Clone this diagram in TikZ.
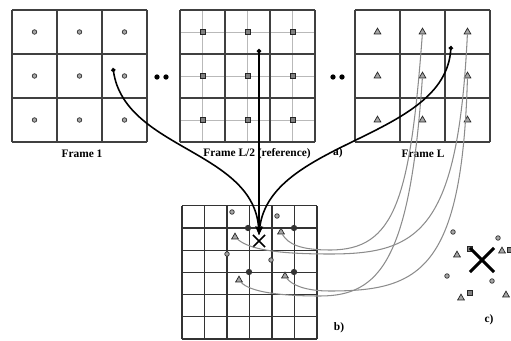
\documentclass[tikz,border=0pt]{standalone}
\usepackage{fontspec}
\setmainfont{Liberation Serif}
\usetikzlibrary{arrows.meta,shapes.geometric,shapes.misc}

\begin{document}
\begin{tikzpicture}[x=0.02cm, y=0.02cm, >=Stealth,
  every node/.style={font=\fontsize{6.5}{8}\selectfont\bfseries},
  pcirc/.style={circle, draw=black!80, fill=black!35, inner sep=0pt, minimum size=2.6pt},
  psq/.style={rectangle, draw=black!85, fill=black!50, inner sep=0pt, minimum size=2.8pt},
  ptri/.style={regular polygon, regular polygon sides=3, draw=black!85, fill=black!35, inner sep=0pt, minimum size=4.4pt},
  pblk/.style={circle, fill=black!80, inner sep=0pt, minimum size=3.6pt},
  gapdot/.style={circle, fill=black, inner sep=0pt, minimum size=3pt},
  framegrid/.style={black!75, line width=0.9pt},
  trail/.style={black!45, line width=0.6pt},
  mv/.style={{Circle[length=2.4pt]}-{Stealth[length=5pt]}, line width=0.9pt}]
\useasboundingbox (0,-341) rectangle (511,0);
% frames a)
\draw[gray!55, line width=0.5pt, shift={(202.5,-120)}, xstep=45, ystep=44] (-22.5,-22) grid (112.5,110);
\draw[framegrid, shift={(12,-142)}, xstep=45, ystep=44] (0,0) grid (135.1,132.1);
\draw[framegrid, shift={(180,-142)}, xstep=45, ystep=44] (0,0) grid (135.1,132.1);
\draw[framegrid, shift={(355,-142)}, xstep=45, ystep=44] (0,0) grid (135.1,132.1);
\node[pcirc] (f11) at (34.5,-32) {};\node[pcirc] (f12) at (79.5,-32) {};\node[pcirc] (f13) at (124.5,-32) {};
\node[pcirc] (f21) at (34.5,-76) {};\node[pcirc] (f22) at (79.5,-76) {};\node[pcirc] (f23) at (124.5,-76) {};
\node[pcirc] (f31) at (34.5,-120) {};\node[pcirc] (f32) at (79.5,-120) {};\node[pcirc] (f33) at (124.5,-120) {};
\node[psq] (m11) at (202.5,-32) {};\node[psq] (m12) at (247.5,-32) {};\node[psq] (m13) at (292.5,-32) {};
\node[psq] (m21) at (202.5,-76) {};\node[psq] (m22) at (247.5,-76) {};\node[psq] (m23) at (292.5,-76) {};
\node[psq] (m31) at (202.5,-120) {};\node[psq] (m32) at (247.5,-120) {};\node[psq] (m33) at (292.5,-120) {};
\node[ptri] (tl11) at (377.5,-32) {};\node[ptri] (tl12) at (422.5,-32) {};\node[ptri] (tl13) at (467.5,-32) {};
\node[ptri] (tl21) at (377.5,-76) {};\node[ptri] (tl22) at (422.5,-76) {};\node[ptri] (tl23) at (467.5,-76) {};
\node[ptri] (tl31) at (377.5,-120) {};\node[ptri] (tl32) at (422.5,-120) {};\node[ptri] (tl33) at (467.5,-120) {};
\node[gapdot] (g1) at (157,-77) {};\node[gapdot] (g2) at (166,-77) {};
\node[gapdot] (g3) at (333,-77) {};\node[gapdot] (g4) at (342,-77) {};
\node (lab1) at (82,-154) {Frame 1};
\node (labm) at (257,-154) {Frame L/2 (reference)};
\node (labl) at (423,-154) {Frame L};
\node (laba) at (338,-153) {a)};
% frame b)
\draw[black!80, line width=0.6pt, shift={(182,-339)}, xstep=22.5, ystep=22.2] (0,0) grid (135.1,133.3);
\node[pcirc] (bc1) at (232,-212) {};\node[pcirc] (bc2) at (277,-216) {};
\node[pcirc] (bc3) at (227,-254) {};\node[pcirc] (bc4) at (271,-260) {};
\node[pblk] (bs1) at (248,-228) {};\node[pblk] (bs2) at (294,-228) {};
\node[pblk] (bs3) at (249,-272) {};\node[pblk] (bs4) at (294,-272) {};
\node[ptri] (bt1) at (235,-237) {};\node[ptri] (bt2) at (281,-232) {};
\node[ptri] (bt3) at (239,-280) {};\node[ptri] (bt4) at (285,-276) {};
\node[draw, cross out, line width=0.9pt, minimum size=6pt, inner sep=0pt] (xb) at (259,-241) {};
\node (labb) at (339,-328) {b)};
% c)
\node[pcirc] (cc1) at (453,-232) {};\node[pcirc] (cc2) at (498,-238) {};
\node[pcirc] (cc3) at (447,-276) {};\node[pcirc] (cc4) at (492,-281) {};
\node[psq, minimum size=3.2pt] (cs1) at (470,-249) {};\node[psq, minimum size=3.2pt] (cs2) at (470,-293) {};
\node[psq, minimum size=3.2pt] (cs3) at (510,-250) {};
\node[ptri] (ct1) at (457,-255) {};\node[ptri] (ct2) at (502,-251) {};
\node[ptri] (ct3) at (461,-298) {};\node[ptri] (ct4) at (506,-295) {};
\node[draw, cross out, line width=1.8pt, minimum size=12pt, inner sep=0pt] (xc) at (482,-260) {};
\node (labc) at (489,-320) {c)};
% trajectories of frame L blocks
\draw[trail] (tl12) .. controls (410,-200) and (395,-250) .. (330,-250) .. controls (300,-250) and (288,-244) .. (bt2);
\draw[trail] (tl13) .. controls (458,-230) and (420,-254) .. (330,-254) .. controls (280,-254) and (250,-250) .. (bt1);
\draw[trail] (tl22) .. controls (410,-260) and (380,-296) .. (320,-296) .. controls (280,-296) and (250,-292) .. (bt3);
\draw[trail] (tl23) .. controls (462,-270) and (420,-291) .. (330,-291) .. controls (305,-291) and (292,-285) .. (bt4);
% motion vectors
\coordinate (tgt) at (259,-235);
\coordinate (tip1) at (113,-68);
\coordinate (tipm) at (259,-49);
\coordinate (tipl) at (451,-46);
\draw[mv] (tip1) .. controls (125,-150) and (255,-150) .. (tgt);
\draw[mv] (tipm) -- (tgt);
\draw[mv] (tipl) .. controls (445,-140) and (268,-140) .. (tgt);
\end{tikzpicture}
\end{document}
